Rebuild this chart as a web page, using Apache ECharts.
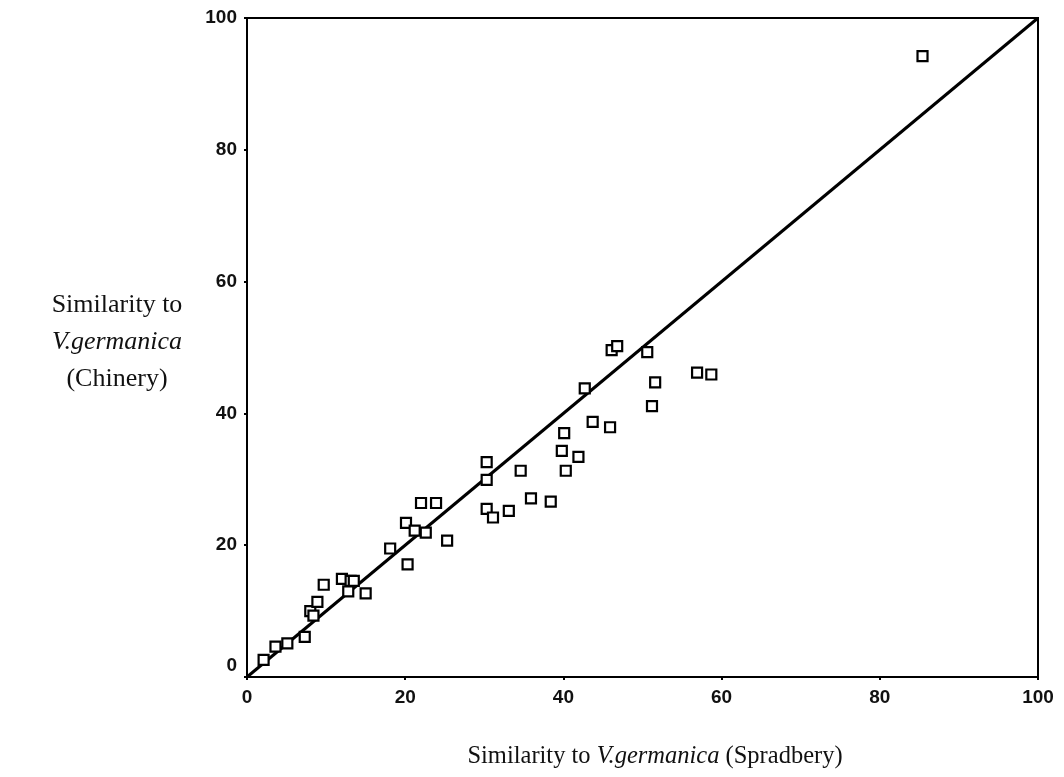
<!DOCTYPE html>
<html>
<head>
<meta charset="utf-8">
<script src="https://cdn.jsdelivr.net/npm/echarts@6/dist/echarts.min.js"></script>
<style>
  html, body { margin: 0; padding: 0; background: #fff; }
  #main { width: 1064px; height: 777px; }
</style>
</head>
<body>
<div id="main"></div>
<script>
// similarity to V.germanica (Spradbery) - x
const spradbery = [2.1, 3.6, 5.1, 7.3, 8.0, 8.4, 8.9, 9.7, 12.0, 12.8, 13.1, 13.5, 15.0,
  18.1, 20.3, 20.1, 21.2, 22.6, 22.0, 23.9, 25.3, 30.3, 30.3, 30.3, 31.1, 33.1, 34.6,
  35.9, 38.4, 40.1, 39.8, 40.3, 41.9, 43.7, 42.7, 45.9, 46.1, 46.8, 50.6, 51.6, 51.2,
  56.9, 58.7, 85.4]
// similarity to V.germanica (Chinery) - y
const chinery = [2.6, 4.6, 5.1, 6.1, 10.0, 9.3, 11.4, 14.0, 14.9, 13.0, 14.6, 14.6, 12.7,
  19.5, 17.1, 23.4, 22.2, 21.9, 26.4, 26.4, 20.7, 32.6, 29.9, 25.5, 24.2, 25.2, 31.3,
  27.1, 26.6, 37.0, 34.3, 31.3, 33.4, 38.7, 43.8, 37.9, 49.6, 50.2, 49.3, 44.7, 41.1,
  46.2, 45.9, 94.2]
// line of equality
const lineX = [0, 100]
const lineY = [0, 100]

const myChart = echarts.init(document.getElementById('main'))

const labelFont = { color: '#111', fontFamily: 'Liberation Sans', fontSize: 19, fontWeight: 'bold' }

myChart.setOption({
  animation: false,
  backgroundColor: '#fff',
  title: [
    {
      text: 'Similarity to\n{i|V.germanica}\n(Chinery)',
      left: 112, top: 282, textAlign: 'center',
      textStyle: {
        fontFamily: 'Liberation Serif', fontSize: 26, fontWeight: 'normal', color: '#111',
        lineHeight: 37, align: 'center',
        rich: { i: { fontFamily: 'Liberation Serif', fontSize: 26, fontStyle: 'italic', color: '#111' } }
      }
    },
    {
      text: 'Similarity to {i|V.germanica} (Spradbery)',
      left: 650, top: 739, textAlign: 'center',
      textStyle: {
        fontFamily: 'Liberation Serif', fontSize: 24.5, fontWeight: 'normal', color: '#111',
        rich: { i: { fontFamily: 'Liberation Serif', fontSize: 24.5, fontStyle: 'italic', color: '#111' } }
      }
    }
  ],
  grid: {
    left: 247, right: 26, top: 18, bottom: 100,
    show: true, borderColor: '#000', borderWidth: 2, backgroundColor: 'transparent'
  },
  xAxis: {
    type: 'value', min: 0, max: 100, interval: 20,
    axisLine: { show: true, onZero: false, lineStyle: { color: '#000', width: 2 } },
    axisTick: { show: true, length: 3, lineStyle: { color: '#000', width: 2 } },
    splitLine: { show: false },
    axisLabel: Object.assign({ margin: 11 }, labelFont)
  },
  yAxis: {
    type: 'value', min: 0, max: 100, interval: 20,
    axisLine: { show: true, onZero: false, lineStyle: { color: '#000', width: 2 } },
    axisTick: { show: true, length: 3, lineStyle: { color: '#000', width: 2 } },
    splitLine: { show: false },
    axisLabel: Object.assign({
      margin: 10,
      formatter: v => v === 0 ? '{z|0}' : String(v),
      rich: { z: { fontFamily: 'Liberation Sans', fontSize: 19, fontWeight: 'bold', color: '#111', padding: [0, 0, 22, 0] } }
    }, labelFont)
  },
  series: [
    {
      type: 'line',
      data: lineX.map((x, i) => [x, lineY[i]]),
      showSymbol: false,
      lineStyle: { color: '#000', width: 3 },
      z: 2
    },
    {
      type: 'scatter',
      data: spradbery.map((x, i) => [x, chinery[i]]),
      symbol: 'rect',
      symbolSize: 10,
      itemStyle: { color: '#fff', borderColor: '#000', borderWidth: 2.2, opacity: 1 },
      z: 3
    }
  ]
})
</script>
</body>
</html>
